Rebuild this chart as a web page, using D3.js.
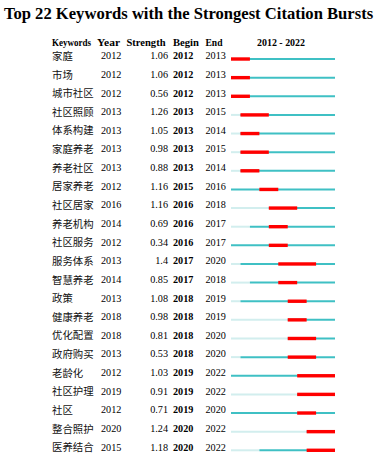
<!DOCTYPE html>
<html><head><meta charset="utf-8">
<script src="https://cdn.jsdelivr.net/npm/d3@7"></script>
<style>body{margin:0;background:#fff}svg{display:block}</style>
</head><body>
<script>
const keywords = ["家庭","市场","城市社区","社区照顾","体系构建","家庭养老","养老社区","居家养老","社区居家","养老机构","社区服务","服务体系","智慧养老","政策","健康养老","优化配置","政府购买","老龄化","社区护理","社区","整合照护","医养结合"];
const years = [2012,2012,2012,2013,2013,2013,2013,2012,2016,2014,2012,2013,2014,2013,2018,2018,2013,2012,2019,2012,2020,2015];
const strengths = ["1.06","1.06","0.56","1.26","1.05","0.98","0.88","1.16","1.16","0.69","0.34","1.4","0.85","1.08","0.98","0.81","0.53","1.03","0.91","0.71","1.24","1.18"];
const begins = [2012,2012,2012,2013,2013,2013,2013,2015,2016,2016,2016,2017,2017,2018,2018,2018,2018,2019,2019,2019,2020,2020];
const ends = [2013,2013,2013,2015,2014,2015,2014,2016,2018,2017,2017,2020,2018,2019,2019,2020,2020,2022,2022,2020,2022,2022];
const headers = ["Keywords","Year","Strength","Begin","End","2012 - 2022"];
const yearStart = 2012, yearEnd = 2022;

const W = 377, H = 459;
const svg = d3.select("body").append("svg").attr("width", W).attr("height", H);
const serif = "'Liberation Serif','Times New Roman',serif";
const cjk = "'Noto Sans CJK SC',serif";

svg.append("text").attr("x", 188.5).attr("y", 18.5).attr("text-anchor","middle")
  .attr("font-family", serif).attr("font-weight","bold").attr("font-size", 16.6)
  .text("Top 22 Keywords with the Strongest Citation Bursts");

const y = d3.scaleBand().domain(d3.range(keywords.length)).range([46.4, 456.3]);
const x = d3.scaleLinear().domain([yearStart, yearEnd + 1]).range([231, 335]);

const hdr = svg.append("g").attr("font-family", serif).attr("font-weight","bold").attr("font-size", 9.6);
const hx = [52, 97, 126.5, 173, 205.5, 281];
const hw = [39, 23, 39, 26, 17, 48];
headers.forEach((h,i)=>{
  hdr.append("text").attr("x", i===5 ? hx[i]-hw[i]/2 : hx[i]).attr("y", 45.8)
    .attr("textLength", hw[i]).attr("lengthAdjust","spacingAndGlyphs").text(h);
});

const rows = svg.selectAll("g.row").data(keywords).join("g").attr("class","row")
  .attr("transform",(d,i)=>`translate(0,${y(i) + y.bandwidth()/2})`);

rows.append("text").attr("x",52).attr("y",4.2).attr("font-family",cjk).attr("font-size",10.4)
  .attr("fill","#111").text(d=>d);
rows.append("text").attr("x",101).attr("y",3.6).attr("font-family",serif).attr("font-size",10.2)
  .text((d,i)=>years[i]);
rows.append("text").attr("x",168).attr("y",3.6).attr("text-anchor","end").attr("font-family",serif).attr("font-size",10.2)
  .text((d,i)=>strengths[i]);
rows.append("text").attr("x",173).attr("y",3.6).attr("font-family",serif).attr("font-weight","bold").attr("font-size",10.2)
  .text((d,i)=>begins[i]);
rows.append("text").attr("x",205.5).attr("y",3.6).attr("font-family",serif).attr("font-size",10.2)
  .text((d,i)=>ends[i]);

const lineY = 3.3;
rows.append("line").attr("x1",x(yearStart)).attr("x2",(d,i)=>x(years[i]))
  .attr("y1",lineY).attr("y2",lineY).attr("stroke","#d2eeee").attr("stroke-width",2);
rows.append("line").attr("x1",(d,i)=>x(years[i])).attr("x2",x(yearEnd+1))
  .attr("y1",lineY).attr("y2",lineY).attr("stroke","#3fc0c4").attr("stroke-width",2);
rows.append("rect").attr("x",(d,i)=>x(begins[i])).attr("width",(d,i)=>x(ends[i]+1)-x(begins[i]))
  .attr("y",lineY-1.7).attr("height",3.4).attr("fill","#ff0000");
</script>
</body></html>
